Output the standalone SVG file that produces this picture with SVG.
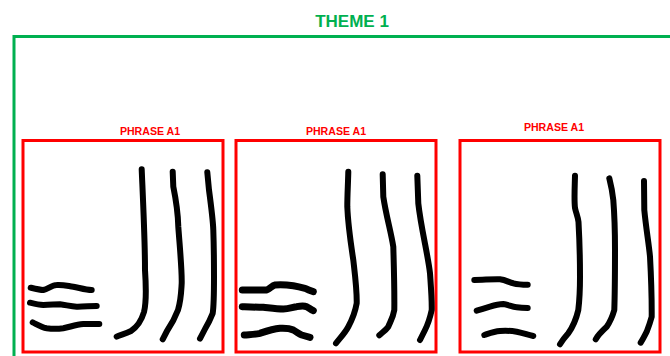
<svg xmlns="http://www.w3.org/2000/svg" width="670" height="356" viewBox="0 0 670 356">
<style>
.title{font-family:"Liberation Sans",Arial,sans-serif;font-weight:bold;font-size:17px;fill:#00B050}
.lbl{font-family:"Liberation Sans",Arial,sans-serif;font-weight:bold;font-size:10.6px;fill:#FF0000}
.box{fill:none;stroke:#FF0000;stroke-width:3}
.ink{fill:none;stroke:#000;stroke-width:6;stroke-linecap:round;stroke-linejoin:round}
.theme{fill:none;stroke:#00B050;stroke-width:3}
</style>
<g id="theme1">
<text class="title" x="352" y="27" text-anchor="middle">THEME 1</text>
<polyline class="theme" points="14,356 14,36.5 670,36.5"/>
</g>
<g id="phrase1">
<rect class="box" x="23" y="140.5" width="200" height="211.5"/>
<text class="lbl" x="150" y="135" text-anchor="middle">PHRASE A1</text>
<path class="ink" d="M141.7,169.3 C143,200 145,240 145,270 C146,285 147,300 144,312 C141,322 137,327 131,331 C125,334 120,335 116.7,336.7"/>
<path class="ink" d="M172.7,171.7 L173.3,186.7 C176,200 178,215 178.3,226.7 C180,250 182,270 181.7,283.3 C181,295 181,300 178,310 C175,318 171,325 167,331 L162.7,339.3"/>
<path class="ink" d="M207.3,172.3 L209,190 C211,205 213,220 213.3,230 C214,250 214,265 214,276.7 C214,295 214,305 212.7,313.3 C210,320 208,324 205,329 L200,338.7"/>
<path class="ink" d="M30.7,287.7 C36,289 40,290 43.3,290 C48,289 52,285 56.7,285 C63,284.5 68,286 73.3,286.7 C80,288 86,290 91.7,290"/>
<path class="ink" d="M30,302.7 C35,304 40,305 43.3,305 C50,305 55,304.3 60,304.3 C66,305 71,306.5 76.7,306.7 C84,306.8 90,306 96.7,306"/>
<path class="ink" d="M32.7,322.3 C38,325 42,327.5 46.7,328.3 C52,329 58,329 63.3,328.3 C70,327 76,324.5 83.3,324 L99.3,324"/>
</g>
<g id="phrase2">
<rect class="box" x="236" y="140.5" width="200" height="211.5"/>
<text class="lbl" x="336" y="135" text-anchor="middle">PHRASE A1</text>
<path class="ink" d="M348.3,171.7 C348,185 347.3,195 347.3,206.7 C348,225 351,245 353.3,260 C355,275 357,290 356.7,303.3 C355,313 352,320 348.3,326.7 C345,333 340,338 336,343.3"/>
<path class="ink" d="M382.7,174.3 L383.3,196.7 C386,215 391,232 393.3,246.7 C394,270 394.5,295 394.3,310 C393,318 390,322 388.3,326.7 C386,330 383,332 379.3,335.3"/>
<path class="ink" d="M417.3,175.7 L418.3,203.3 C421,228 428,255 430,273.3 C431,288 432,300 431.7,310 C430,318 428,324 425,330 L420,340"/>
<path class="ink" d="M242.3,290 L266.7,290 C270,289 272,285.5 275,285 C282,284.5 288,285 293.3,285.7 C298,286.5 302,287.5 305,288.3 C308,290 311,291 313.3,291.7" style="stroke-width:7"/>
<path class="ink" d="M242.3,306.7 C250,307 257,307.3 263.3,307.3 C270,308 277,309 283.3,309 C289,309 293,307 296.7,306.7 C300,306 304,305.5 306.7,306.7 C309,308 311,309.5 313.3,310.7" style="stroke-width:7"/>
<path class="ink" d="M244.3,335 C250,334.5 255,334.5 260,333.3 C267,331 273,329 280,328.3 C286,328 290,328.5 293.3,330 C297,332 299,334 301.7,335 L310,337.3" style="stroke-width:7"/>
</g>
<g id="phrase3">
<rect class="box" x="460" y="140.5" width="200" height="211.5"/>
<text class="lbl" x="554" y="131" text-anchor="middle">PHRASE A1</text>
<path class="ink" d="M575,175.7 C574.7,188 574,200 575,208 C576,213 578,217 578.5,222 C579.5,240 580,260 580,276.7 C580,290 579.5,300 578.3,310 C576,320 572,328 568.3,333.3 C565,337 562,341 560,344.3"/>
<path class="ink" d="M609.3,178.3 C611,185 612.5,193 613.3,200 C614.5,215 615,235 615,250 C615,270 614.8,295 614.3,310 C612,318 610,322 606.7,326.7 C602,331 598,335 595.7,339.3"/>
<path class="ink" d="M644,181 L644.3,210 C646,228 649,245 650,256.7 C651,275 651.8,300 651.7,316.7 C650,323 648.5,327 646.7,331.7 C645,335 643,339 640.7,342.7"/>
<path class="ink" d="M474.3,280 C483,280 492,279 500,279.3 C506,280 509,282.5 513.3,283.3 C518,284.5 523,284.7 527.7,284.7"/>
<path class="ink" d="M476.7,310.7 C481,309.5 486,308 490,306.7 C495,305 499,304 503.3,304 C508,304.5 512,307 516.7,307.3 C520,307.8 524,308 527.7,308"/>
<path class="ink" d="M484.3,335 C489,333.5 494,331.5 500,331 C506,330.5 511,330.8 516.7,331.7 C523,333 528,335 533.3,336"/>
</g>
</svg>
